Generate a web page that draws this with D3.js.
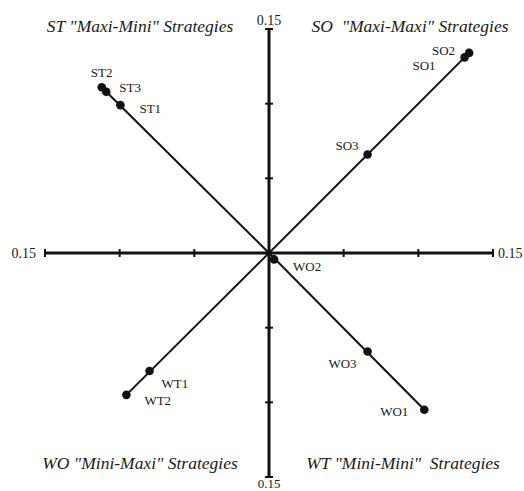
<!DOCTYPE html>
<html>
<head>
<meta charset="utf-8">
<script src="https://cdn.jsdelivr.net/npm/d3@7"></script>
<style>
  body { margin: 0; background: #fff; }
  text { font-family: "Liberation Serif", "Times New Roman", serif; fill: #1a1a1a; }
</style>
</head>
<body>
<div id="chart"></div>
<script>
// strategy points (x, y)
const names = ["SO1", "SO2", "SO3", "ST1", "ST2", "ST3", "WO1", "WO2", "WO3", "WT1", "WT2"];
const xs = [0.131, 0.134, 0.066, -0.0995, -0.112, -0.109, 0.104, 0.0034, 0.066, -0.080, -0.0955];
const ys = [0.131, 0.134, 0.066, 0.099, 0.111, 0.108, -0.105, -0.0043, -0.066, -0.079, -0.095];

// the line in each quadrant runs from the origin to its farthest strategy
const lineEnds = ["SO2", "ST2", "WO1", "WT2"];

const tickValues = [-0.15, -0.1, -0.05, 0.05, 0.1, 0.15];
const axisLabel = "0.15";

const quadrantTitles = [
  "ST \"Maxi-Mini\" Strategies",
  "SO\u00a0\u00a0\"Maxi-Maxi\" Strategies",
  "WO \"Mini-Maxi\" Strategies",
  "WT \"Mini-Mini\"\u00a0\u00a0Strategies"
];

// label placement, relative to each dot
const labelPos = {
  SO1: [-29, 13, "end"], SO2: [-14, 2, "end"], SO3: [-9, -4, "end"],
  ST1: [19, 8, "start"], ST2: [-11, -10, "start"], ST3: [13, 0, "start"],
  WO1: [-16, 6, "end"], WO2: [19, 12, "start"], WO3: [-11, 16, "end"],
  WT1: [12, 17, "start"], WT2: [18, 10, "start"]
};

const width = 524, height = 491;

const data = names.map((n, i) => ({ name: n, x: xs[i], y: ys[i] }));

const x = d3.scaleLinear().domain([-0.15, 0.15]).range([45, 493]);
const y = d3.scaleLinear().domain([-0.15, 0.15]).range([477, 29]);

const svg = d3.select("#chart").append("svg")
    .attr("width", width)
    .attr("height", height);

// diagonal lines
svg.append("g")
  .selectAll("line")
  .data(data.filter(d => lineEnds.includes(d.name)))
  .enter().append("line")
    .attr("x1", x(0)).attr("y1", y(0))
    .attr("x2", d => x(d.x)).attr("y2", d => y(d.y))
    .attr("stroke", "#111")
    .attr("stroke-width", 2);

// axes
const axes = svg.append("g");
axes.append("line")
    .attr("x1", x(-0.15)).attr("x2", x(0.15))
    .attr("y1", y(0)).attr("y2", y(0))
    .attr("stroke", "#111").attr("stroke-width", 3);
axes.append("line")
    .attr("x1", x(0)).attr("x2", x(0))
    .attr("y1", y(0.15)).attr("y2", y(-0.15))
    .attr("stroke", "#111").attr("stroke-width", 3);

axes.selectAll(".xtick")
  .data(tickValues)
  .enter().append("line")
    .attr("class", "xtick")
    .attr("x1", d => x(d)).attr("x2", d => x(d))
    .attr("y1", y(0) - 4).attr("y2", y(0) + 4)
    .attr("stroke", "#111").attr("stroke-width", 2);
axes.selectAll(".ytick")
  .data(tickValues)
  .enter().append("line")
    .attr("class", "ytick")
    .attr("y1", d => y(d)).attr("y2", d => y(d))
    .attr("x1", x(0) - 4).attr("x2", x(0) + 4)
    .attr("stroke", "#111").attr("stroke-width", 2);

// end labels of the axes
axes.append("text").attr("x", x(-0.15) - 9).attr("y", y(0) + 5)
    .attr("text-anchor", "end").attr("font-size", 14).text(axisLabel);
axes.append("text").attr("x", x(0.15) + 5).attr("y", y(0) + 5)
    .attr("text-anchor", "start").attr("font-size", 14).text(axisLabel);
axes.append("text").attr("x", x(0)).attr("y", y(0.15) - 4)
    .attr("text-anchor", "middle").attr("font-size", 14).text(axisLabel);
axes.append("text").attr("x", x(0)).attr("y", y(-0.15) + 11)
    .attr("text-anchor", "middle").attr("font-size", 13).text(axisLabel);

// quadrant titles
const titlePos = [[140, 32], [410, 32], [140, 469], [403, 469]];
svg.append("g")
  .selectAll("text")
  .data(quadrantTitles)
  .enter().append("text")
    .attr("x", (d, i) => titlePos[i][0])
    .attr("y", (d, i) => titlePos[i][1])
    .attr("text-anchor", "middle")
    .attr("font-size", 17.5)
    .attr("font-style", "italic")
    .text(d => d);

// dots
svg.append("g")
  .selectAll("circle")
  .data(data)
  .enter().append("circle")
    .attr("cx", d => x(d.x))
    .attr("cy", d => y(d.y))
    .attr("r", 4.3)
    .attr("fill", "#111");

// point labels
svg.append("g")
  .selectAll("text")
  .data(data)
  .enter().append("text")
    .attr("x", d => x(d.x) + labelPos[d.name][0])
    .attr("y", d => y(d.y) + labelPos[d.name][1])
    .attr("text-anchor", d => labelPos[d.name][2])
    .attr("font-size", 13)
    .text(d => d.name);
</script>
</body>
</html>
